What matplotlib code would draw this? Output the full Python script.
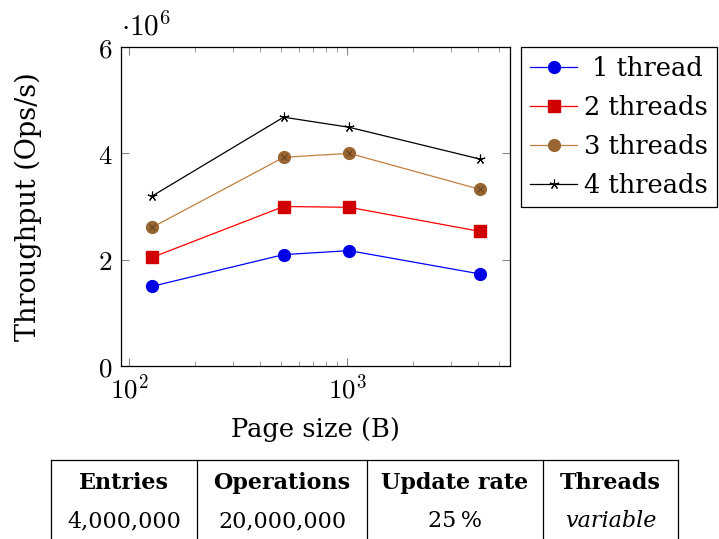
import matplotlib
matplotlib.use('agg')
import matplotlib.pyplot as plt
from matplotlib.ticker import FixedLocator, FuncFormatter, LogLocator, NullFormatter
import numpy as np

plt.rcParams['font.family'] = ['DejaVu Serif']
plt.rcParams['mathtext.fontset'] = 'cm'

# data (throughput in millions of ops/s)
page_sizes = [128, 512, 1024, 4096]
thr_1 = [1.50, 2.095, 2.17, 1.73]
thr_2 = [2.045, 3.00, 2.985, 2.53]
thr_3 = [2.61, 3.925, 4.00, 3.32]
thr_4 = [3.20, 4.68, 4.49, 3.89]
labels = [' 1 thread', '2 threads', '3 threads', '4 threads']

table_head = ['Entries', 'Operations', 'Update rate', 'Threads']
table_row = ['4,000,000', '20,000,000', '25\u2009%', 'variable']

fig = plt.figure(figsize=(7.19, 5.39), dpi=100)
ax = fig.add_axes([121/719, 1-366/539, 389/719, 319/539])

ax.plot(page_sizes, thr_1, '-o', color='blue', lw=0.9, ms=8.5,
        mfc=(0, 0, 0.9), mec=(0, 0, 0.9), label=labels[0])
ax.plot(page_sizes, thr_2, '-s', color='red', lw=0.9, ms=8,
        mfc=(0.82, 0, 0), mec=(0.82, 0, 0), label=labels[1])
ax.plot(page_sizes, thr_3, '-o', color=(0.75, 0.5, 0.25), lw=0.9, ms=8.5,
        mfc=(0.6, 0.4, 0.2), mec=(0.6, 0.4, 0.2), label=labels[2])
ax.plot(page_sizes, thr_3, 'x', color=(0.35, 0.22, 0.1), ms=5, mew=0.6)
ax.plot(page_sizes, thr_4, '-', color='black', lw=0.9, marker=(5, 2, 0),
        ms=7, mew=0.8, label=labels[3])

ax.set_xscale('log')
ax.set_xlim(10**1.963, 10**3.748)
ax.set_ylim(0, 6)

ax.yaxis.set_major_locator(FixedLocator([0, 2, 4, 6]))
ax.yaxis.set_major_formatter(FuncFormatter(lambda v, p: r'$%d$' % v))
ax.xaxis.set_major_locator(LogLocator(base=10))
ax.xaxis.set_minor_locator(LogLocator(base=10, subs=np.arange(2, 10)))
ax.xaxis.set_minor_formatter(NullFormatter())
ax.xaxis.set_major_formatter(FuncFormatter(lambda v, p: r'$10^{%d}$' % round(np.log10(v))))

ax.tick_params(which='both', direction='in', top=True, right=True,
               color='#888888', labelsize=19.5, pad=6)
ax.tick_params(which='major', length=6, width=0.8)
ax.tick_params(which='minor', length=3.5, width=0.6)
for s in ax.spines.values():
    s.set_linewidth(0.9)

ax.annotate(r'$\cdot 10^{6}$', xy=(0.0, 1.0), xycoords='axes fraction',
            xytext=(0, 4), textcoords='offset points', fontsize=21,
            ha='left', va='bottom')

ax.set_xlabel('Page size (B)', fontsize=18.5, labelpad=9)
ax.set_ylabel('Throughput (Ops/s)', fontsize=19.5, labelpad=40)

leg = ax.legend(loc='upper left', bbox_to_anchor=(1.028, 1.0), fontsize=18.5,
                fancybox=False, edgecolor='black', framealpha=1,
                handlelength=1.85, handletextpad=0.25, borderaxespad=0,
                labelspacing=0.55, borderpad=0.35)
leg.get_frame().set_linewidth(0.9)

# parameter table below the chart
col_edges = [51, 197, 367, 543, 678]
top = 460
fig.add_artist(plt.Line2D([col_edges[0]/719, col_edges[-1]/719],
                          [1-top/539, 1-top/539], color='black', lw=0.9))
for xe in col_edges:
    fig.add_artist(plt.Line2D([xe/719, xe/719], [1-top/539, 0],
                              color='black', lw=0.9))
for i in range(4):
    xc = (col_edges[i] + col_edges[i+1]) / 2 / 719
    fig.text(xc, 1-489/539, table_head[i], ha='center', va='baseline',
             fontsize=16, fontweight='bold')
    fig.text(xc, 1-527/539, table_row[i], ha='center', va='baseline',
             fontsize=16, style='italic' if i == 3 else 'normal')

fig.savefig('out.png', dpi=100)
